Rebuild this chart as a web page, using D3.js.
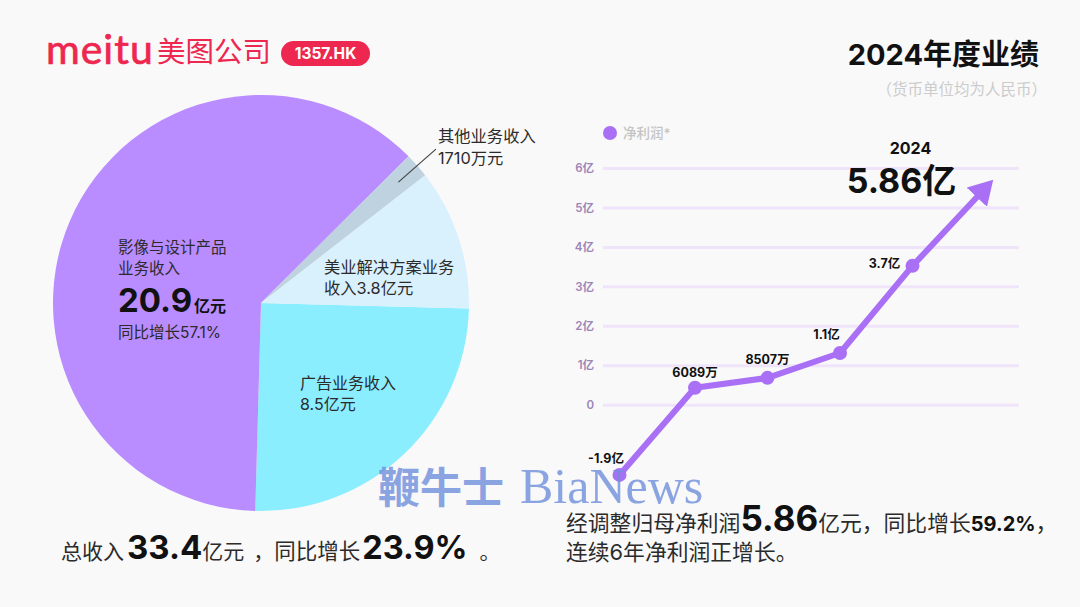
<!DOCTYPE html>
<html>
<head>
<meta charset="utf-8">
<script src="https://cdn.jsdelivr.net/npm/d3@7"></script>
<style>
    html, body { margin: 0; padding: 0; background: #f9f9f9; }
    svg { display: block; }
    text { font-family: Inter, "Noto Sans CJK SC", sans-serif; }
</style>
</head>
<body>
<svg id="chart" width="1080" height="607"></svg>
<script>
// pie: slice sizes as drawn in the picture (the "other" slice is drawn wider than its 1710万)
const sliceNames = ["广告业务", "影像与设计产品", "其他业务", "美业解决方案"];
const sliceValues = [8.4, 20.85, 0.65, 3.67];
const sliceColors = ["#8aeeff", "#b98cff", "#bfd2df", "#d9f0fd"];

const years = [2019, 2020, 2021, 2022, 2023, 2024];
const profitValues = [-1.78, 0.43, 0.68, 1.31, 3.52, 5.48];
const profitLabels = ["-1.9亿", "6089万", "8507万", "1.1亿", "3.7亿"];
const yTicks = [0, 1, 2, 3, 4, 5, 6];

const svg = d3.select("#chart");

function addText(x, y, parts, anchor) {
    const t = svg.append("text")
        .attr("x", x)
        .attr("y", y)
        .attr("text-anchor", anchor || "start");

    parts.forEach(p => {
        t.append("tspan")
            .attr("font-size", p.size)
            .attr("font-weight", p.weight || 400)
            .attr("fill", p.color || "#2b2b2b")
            .attr("dx", p.dx || 0)
            .text(p.text);
    });

    return t;
}

// header
const red = "#ee2750";
addText(46, 64, [{ text: "meitu", size: 41, weight: 400, color: red }])
    .style("font-family", "Lato")
    .style("letter-spacing", "1px")
    .attr("stroke", red)
    .attr("stroke-width", 0.7);
addText(157, 62, [{ text: "美图公司", size: 28.5, weight: 400, color: red }]);
svg.append("rect")
    .attr("x", 281)
    .attr("y", 41)
    .attr("width", 89)
    .attr("height", 25)
    .attr("rx", 12.5)
    .attr("fill", red);
addText(325.5, 59, [{ text: "1357.HK", size: 15.5, weight: 700, color: "#fff" }], "middle");

addText(1039, 65, [{ text: "2024年度业绩", size: 29, weight: 700, color: "#111" }], "end");
addText(1047, 95, [{ text: "（货币单位均为人民币）", size: 15.5, color: "#ccc" }], "end");

// pie
const pieGroup = svg.append("g").attr("transform", "translate(261,303)");
const toRad = Math.PI / 180;
const pie = d3.pie()
    .sort(null)
    .startAngle(91.5 * toRad)
    .endAngle(451.5 * toRad);
const arc = d3.arc().innerRadius(0).outerRadius(208);
const slices = pie(sliceValues);

pieGroup.selectAll("path")
    .data(slices)
    .join("path")
    .attr("d", arc)
    .attr("fill", (d, i) => sliceColors[i]);

// leader line of the small slice
const otherSlice = slices[sliceNames.indexOf("其他业务")];
const leaderInner = d3.arc().innerRadius(183).outerRadius(183).centroid(otherSlice);
const leaderOuter = d3.arc().innerRadius(233).outerRadius(233).centroid(otherSlice);
pieGroup.append("line")
    .attr("x1", leaderInner[0])
    .attr("y1", leaderInner[1])
    .attr("x2", leaderOuter[0])
    .attr("y2", leaderOuter[1])
    .attr("stroke", "#444")
    .attr("stroke-width", 1.2);

addText(118, 253, [{ text: "影像与设计产品", size: 15.5 }]);
addText(118, 274, [{ text: "业务收入", size: 15.5 }]);
addText(118, 312, [
    { text: "20.9", size: 33, weight: 700, color: "#111" },
    { text: "亿元", size: 16, weight: 700, color: "#111", dx: 2 }
]);
addText(118, 338, [{ text: "同比增长57.1%", size: 15.5 }]);
addText(324, 273, [{ text: "美业解决方案业务", size: 16.3 }]);
addText(324, 294, [{ text: "收入3.8亿元", size: 16.3 }]);
addText(300, 389, [{ text: "广告业务收入", size: 16 }]);
addText(300, 410, [{ text: "8.5亿元", size: 16 }]);
addText(438, 142, [{ text: "其他业务收入", size: 16.3 }]);
addText(438, 164, [{ text: "1710万元", size: 16.3 }]);

// line chart
const x = d3.scaleLinear().domain([2019, 2020, 2024]).range([619.5, 695, 985]);
const y = d3.scaleLinear().domain([0, 6]).range([404.7, 168]);

const yAxis = d3.axisLeft(y)
    .tickValues(yTicks)
    .tickSize(416)
    .tickPadding(9)
    .tickFormat(d => d === 0 ? "0" : d + "亿");

const axisGroup = svg.append("g")
    .attr("transform", "translate(1019,0)")
    .call(yAxis);
axisGroup.select(".domain").remove();
axisGroup.selectAll(".tick line")
    .attr("stroke", "#f0e4fb")
    .attr("stroke-width", 3);
axisGroup.selectAll(".tick text")
    .attr("fill", "#9c86b8")
    .attr("font-size", 11.5)
    .attr("font-weight", 600)
    .style("font-family", 'Inter, "Noto Sans CJK SC", sans-serif');

const lineColor = "#a970f6";
svg.append("defs").append("marker")
    .attr("id", "arrow")
    .attr("markerUnits", "userSpaceOnUse")
    .attr("viewBox", "-12 -14 24 28")
    .attr("refX", 0)
    .attr("refY", 0)
    .attr("markerWidth", 24)
    .attr("markerHeight", 28)
    .attr("orient", "auto")
    .append("path")
    .attr("d", "M-12,-14L12,0L-12,14Z")
    .attr("fill", lineColor);

const line = d3.line()
    .x((d, i) => x(years[i]))
    .y(d => y(d));

svg.append("path")
    .attr("d", line(profitValues))
    .attr("fill", "none")
    .attr("stroke", lineColor)
    .attr("stroke-width", 6)
    .attr("stroke-linejoin", "round")
    .attr("marker-end", "url(#arrow)");

svg.selectAll("circle.point")
    .data(profitValues.slice(0, -1))
    .join("circle")
    .attr("class", "point")
    .attr("cx", (d, i) => x(years[i]))
    .attr("cy", d => y(d))
    .attr("r", 7)
    .attr("fill", lineColor);

// value labels sit at different sides of their points
const labelOffsets = [[-13.5, -12], [0, -11], [0, -14], [-13.5, -14], [-28, 2]];
svg.selectAll("text.value")
    .data(profitLabels)
    .join("text")
    .attr("class", "value")
    .attr("x", (d, i) => x(years[i]) + labelOffsets[i][0])
    .attr("y", (d, i) => y(profitValues[i]) + labelOffsets[i][1])
    .attr("text-anchor", "middle")
    .attr("font-size", 12.5)
    .attr("font-weight", 700)
    .attr("fill", "#111")
    .text(d => d);

svg.append("circle")
    .attr("cx", 610)
    .attr("cy", 133)
    .attr("r", 7)
    .attr("fill", lineColor);
addText(623, 138, [{ text: "净利润*", size: 13.5, weight: 500, color: "#c4c4c4" }]);

addText(910.5, 154, [{ text: String(years[5]), size: 16, weight: 700, color: "#111" }], "middle");
addText(901.5, 193, [{ text: "5.86亿", size: 34, weight: 700, color: "#111" }], "middle");

// bottom notes
addText(61, 559, [
    { text: "总收入", size: 21 },
    { text: "33.4", size: 33, weight: 700, color: "#111", dx: 3 },
    { text: "亿元", size: 21 },
    { text: "，", size: 21, dx: 9 },
    { text: "同比增长", size: 21.5 },
    { text: "23.9%", size: 32.5, weight: 700, color: "#111", dx: 2 },
    { text: "。", size: 21, dx: 12 }
]);
addText(566, 531, [
    { text: "经调整归母净利润", size: 21.8 },
    { text: "5.86", size: 35, weight: 700, color: "#111" },
    { text: "亿元，同比增长", size: 21.8 },
    { text: "59.2%", size: 20, weight: 700, color: "#111" },
    { text: "，", size: 21.8 }
]);
addText(566, 560, [{ text: "连续6年净利润正增长。", size: 21.8 }]);

// watermark
const mark = svg.append("text")
    .attr("x", 378)
    .attr("y", 503)
    .attr("fill", "#6f8fdc")
    .attr("opacity", 0.8)
    .style("font-family", '"Liberation Serif", "Noto Sans CJK SC", serif');
mark.append("tspan")
    .attr("font-size", 42)
    .attr("font-weight", 700)
    .text("鞭牛士");
mark.append("tspan")
    .attr("font-size", 50)
    .attr("dx", 16)
    .text("BiaNews");
</script>
</body>
</html>
